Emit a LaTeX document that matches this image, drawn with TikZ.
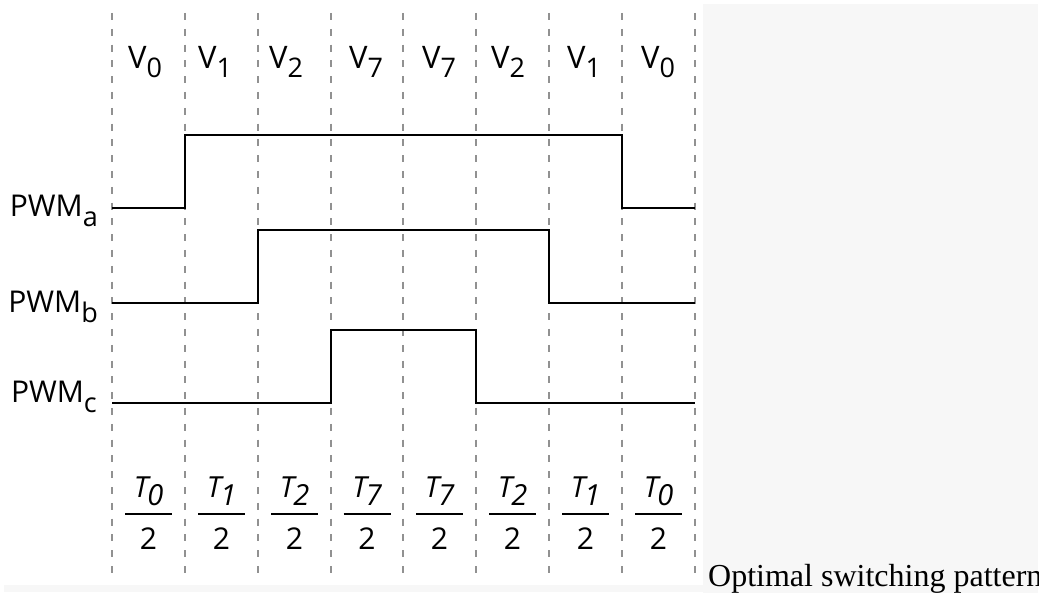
\documentclass[tikz,border=0pt]{standalone}
\usepackage{fontspec}
\setmainfont{Open Sans}
\newfontfamily\capfont{Liberation Serif}
\definecolor{bgray}{RGB}{247,247,247}
\definecolor{gridgray}{RGB}{145,145,145}
\newcommand\mysub[1]{\raisebox{-9.5pt}{\fontsize{27}{29}\selectfont #1}}
\newcommand\myisub[1]{\raisebox{-8.5pt}{\fontsize{29}{31}\selectfont\itshape #1}}
\begin{document}
\begin{tikzpicture}[x=1pt,y=-1pt,
  gridline/.style={draw=gridgray, line width=1.5pt, dash pattern=on 7pt off 8.8pt},
  sig/.style={draw=black, line width=2pt, line join=miter},
  vlab/.style={anchor=base west, inner sep=0pt, font=\fontsize{31}{33}\selectfont},
  plab/.style={anchor=base east, inner sep=0pt, font=\fontsize{30}{32}\selectfont},
  num/.style={anchor=base, inner sep=0pt, font=\fontsize{29}{31}\selectfont\itshape},
  den/.style={anchor=base, inner sep=0pt, font=\fontsize{30}{32}\selectfont},
  fbar/.style={draw=black, line width=1.8pt}
]
\fill[white] (0,0) rectangle (1047,593);
\useasboundingbox (0,0) rectangle (1047,593);
\fill[bgray] (703,4) rectangle (1038,593);
\fill[bgray] (4,585) rectangle (703,592);

% dashed grid lines
\foreach \gx in {112,185,258,331,403,476,549,622,695}
  \draw[gridline] (\gx,13) -- (\gx,577);

% vector labels
\node[vlab] (v1) at (128,68.3) {V\mysub{0}};
\node[vlab] (v2) at (198,68.3) {V\mysub{1}};
\node[vlab] (v3) at (269,68.3) {V\mysub{2}};
\node[vlab] (v4) at (349,68.3) {V\mysub{7}};
\node[vlab] (v5) at (422,68.3) {V\mysub{7}};
\node[vlab] (v6) at (491,68.3) {V\mysub{2}};
\node[vlab] (v7) at (567,68.3) {V\mysub{1}};
\node[vlab] (v8) at (641,68.3) {V\mysub{0}};

% signal labels
\node[plab] (la) at (98,217) {PWM\mysub{a}};
\node[plab] (lb) at (98,313) {PWM\mysub{b}};
\node[plab] (lc) at (97,403) {PWM\mysub{c}};

% waveforms
\draw[sig] (112,208) -- (185,208) -- (185,135) -- (622,135) -- (622,208) -- (695,208);
\draw[sig] (112,303) -- (258,303) -- (258,230) -- (549,230) -- (549,303) -- (695,303);
\draw[sig] (112,403) -- (331,403) -- (331,330) -- (476,330) -- (476,403) -- (695,403);

% time fractions
\foreach \cx/\k [count=\i] in {148.5/0,221.5/1,294.5/2,367/7,439.5/7,512.5/2,585.5/1,658.5/0}{
  \node[num] (n\i) at (\cx,497) {T\kern-1pt\myisub{\k}};
  \draw[fbar] (\cx-23.5,514) -- (\cx+23.5,514);
  \node[den] (d\i) at (\cx,549) {2};
}

% caption
\begin{scope}
  \clip (703,540) rectangle (1038,593);
  \node[anchor=base west, inner sep=0pt, font=\capfont\fontsize{32}{34}\selectfont] (cap) at (708,586) {Optimal switching pattern};
\end{scope}
\end{tikzpicture}
\end{document}
